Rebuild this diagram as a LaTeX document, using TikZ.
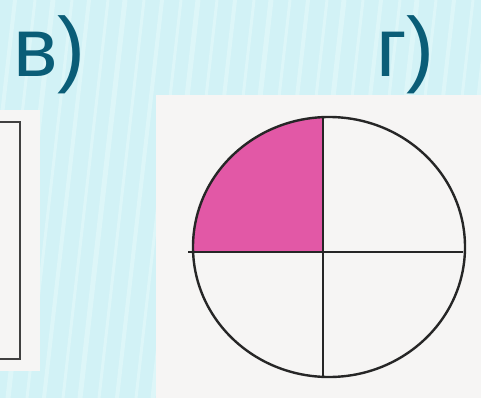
\documentclass[tikz,border=0pt]{standalone}
\usepackage{fontspec}
\setmainfont{Liberation Sans}
\definecolor{bgcyan}{HTML}{D2F2F6}
\definecolor{stripe}{HTML}{E3F8FA}
\definecolor{labelcol}{HTML}{0A5D77}
\definecolor{paper}{HTML}{F6F5F4}
\definecolor{quarter}{HTML}{E258A6}
\tikzset{
  lbl/.style={anchor=base west,text=labelcol,inner sep=0pt,font=\fontsize{84}{84}\selectfont},
  outline/.style={draw=black!85,line width=2.4pt},
  stripeline/.style={draw=stripe,line width=#1,opacity=0.7}
}
\begin{document}
\begin{tikzpicture}[x=1pt,y=-1pt]
\useasboundingbox (0,0) rectangle (481,398);
\fill[bgcyan] (0,0) rectangle (481,398);
\begin{scope}
\clip (0,0) rectangle (481,398);
\foreach \s/\w in {-30/4,-10/3,8/5,27/3,44/4,63/3,80/5,99/3,117/4,136/3,153/5,172/3,190/4,209/3,226/5,245/3,263/4,282/3,299/5,318/3,336/4,355/3,372/5,391/3,409/4,428/3,445/5,464/3}
  \draw[stripeline=\w] (\s,398) -- (\s+45,0);
\end{scope}
% labels
\node[lbl] (lv) at (13,77) {в)};
\node[lbl] (lg) at (376,77) {г)};
% left paper with box
\begin{scope}
\clip (0,0) rectangle (481,398);
\fill[paper] (-2,110) rectangle (40,371);
\draw[outline,draw=black!75] (-10,122) rectangle (20,359);
\end{scope}
% right paper
\fill[paper] (156,95) rectangle (481,398);
% pink quarter
\begin{scope}
\clip (150,100) rectangle (323,252);
\fill[quarter] (329,247) ellipse [x radius=136, y radius=130];
\end{scope}
\coordinate (c) at (329,247);
\draw[outline] (c) ellipse [x radius=136, y radius=130];
\coordinate (ht) at (323,117);
\coordinate (hb) at (323,377);
\coordinate (hl) at (188,252);
\coordinate (hr) at (463,252);
\draw[outline] (ht) -- (hb);
\draw[outline] (hl) -- (hr);
\end{tikzpicture}
\end{document}
